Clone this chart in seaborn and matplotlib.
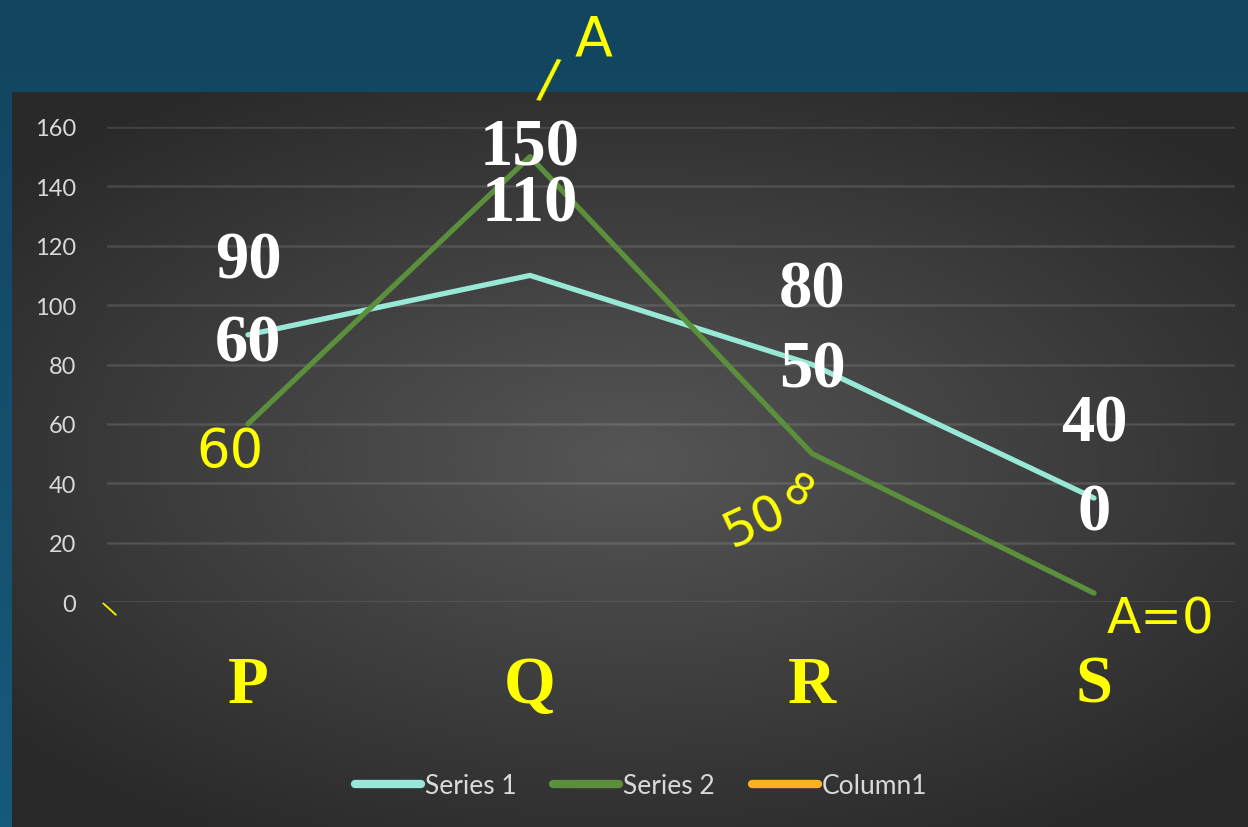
import numpy as np
import pandas as pd
import seaborn as sns
import matplotlib.pyplot as plt
from matplotlib.lines import Line2D

###############################################################################
# Data

categories = ["P", "Q", "R", "S"]
series_1 = [90, 110, 80, 35]
series_2 = [60, 150, 50, 3]
column_1 = []  # shown in the legend only, no points

# big white data labels (upper / lower at each category) and their heights
labels_upper = ["90", "150", "80", "40"]
labels_lower = ["60", "110", "50", "0"]
labels_upper_y = [115, 153, 105, 60]
labels_lower_y = [87, 134, 78, 30]

y_ticks = [0, 20, 40, 60, 80, 100, 120, 140, 160]
legend_names = ["Series 1", "Series 2", "Column1"]

df = pd.DataFrame({
    "cat": categories * 2,
    "value": series_1 + series_2,
    "series": ["Series 1"] * 4 + ["Series 2"] * 4,
})

colors = {"Series 1": "#98e8d6", "Series 2": "#5b8f3b", "Column1": "#fdb022"}

###############################################################################
# Figure and slide-like background

W, H = 1248, 828
fig = plt.figure(figsize=(W / 100, H / 100), dpi=100)
fig.patch.set_facecolor("#12465f")

bg = fig.add_axes([0, 0, 1, 1], zorder=-10)
bg.set_xlim(0, W)
bg.set_ylim(H, 0)
bg.axis("off")

# teal slide background, a bit lighter towards the bottom
yy, xx = np.mgrid[0:1:200j, 0:1:200j]
teal = np.dstack([0.07 + 0.02 * yy, 0.27 + 0.08 * yy, 0.37 + 0.11 * yy])
bg.imshow(teal, extent=(0, W, H, 0), aspect="auto")

# dark grey chart area with a soft radial highlight
gx, gy = np.meshgrid(np.linspace(-1, 1, 400), np.linspace(-1, 1, 300))
r = np.clip(np.sqrt((gx * 0.9) ** 2 + gy ** 2), 0, 1.2)
shade = 0.335 - 0.145 * r
grey = np.dstack([shade, shade, shade])
bg.imshow(grey, extent=(12, W, H, 93), aspect="auto")

###############################################################################
# Line chart

ax = fig.add_axes([107 / W, 225 / H, 1128 / W, 475 / H])
ax.patch.set_alpha(0)

sns.lineplot(data=df, x="cat", y="value", hue="series", palette=colors,
             linewidth=3.8, ax=ax, legend=False, sort=False,
             solid_capstyle="round")

ax.set_xlim(-0.5, 3.5)
ax.set_ylim(0, 160)
ax.set_yticks(y_ticks)
ax.set_yticklabels([str(t) for t in y_ticks], family="Lato", fontsize=17,
                   color="#d9d9d9")
ax.set_xticks(range(len(categories)))
ax.set_xticklabels(categories, family="Liberation Serif", fontweight="bold",
                   fontsize=48, color="#ffff00")
ax.tick_params(axis="y", length=0, pad=22)
ax.tick_params(axis="x", length=0, pad=38)
ax.set_xlabel("")
ax.set_ylabel("")
ax.grid(axis="y", color="white", alpha=0.12, linewidth=1.8)
ax.set_axisbelow(True)
sns.despine(ax=ax, left=True, bottom=True)

for i in range(len(categories)):
    ax.text(i, labels_upper_y[i], labels_upper[i], ha="center", va="center",
            family="Liberation Serif", fontweight="bold", fontsize=48,
            color="white", zorder=5)
    ax.text(i, labels_lower_y[i], labels_lower[i], ha="center", va="center",
            family="Liberation Serif", fontweight="bold", fontsize=48,
            color="white", zorder=5)

handles = [Line2D([], [], color=colors[n], linewidth=6,
                  solid_capstyle="round") for n in legend_names]
fig.legend(handles, legend_names, loc="center",
           bbox_to_anchor=(641 / W, 1 - 787 / H), ncol=3, frameon=False,
           prop={"family": "Lato", "size": 19}, labelcolor="#d9d9d9",
           handlelength=2.5, handletextpad=0.15, columnspacing=1.4)

###############################################################################
# Yellow pen annotations drawn on the slide

pen = dict(color="#ffff00", family="DejaVu Sans")
bg.text(594, 40, "A", fontsize=40, ha="center", va="center", **pen)
bg.text(548, 82, "/", fontsize=38, ha="center", va="center", rotation=-10, **pen)
bg.text(230, 452, "60", fontsize=38, ha="center", va="center", **pen)
bg.text(755, 522, "50", fontsize=36, ha="center", va="center", rotation=25, **pen)
bg.text(797, 493, "8", fontsize=30, ha="center", va="center", rotation=-30, **pen)
bg.text(1160, 620, "A=0", fontsize=36, ha="center", va="center", **pen)
bg.text(110, 610, "\\", fontsize=16, ha="center", va="center", rotation=30, **pen)

fig.savefig("out.png", dpi=100)
